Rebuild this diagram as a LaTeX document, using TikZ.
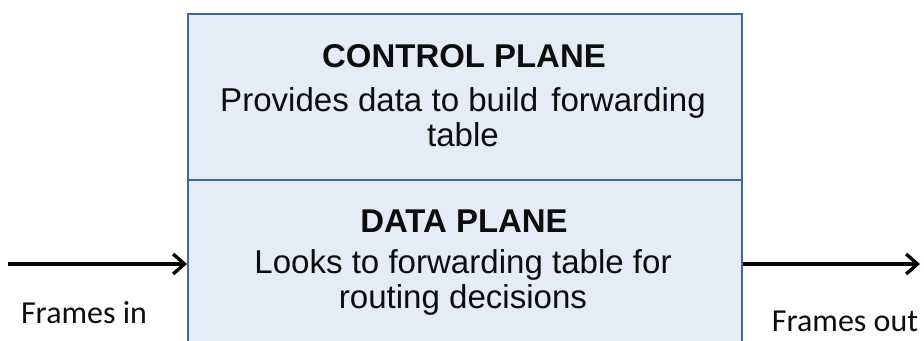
\documentclass[tikz,border=0pt]{standalone}
\usepackage{fontspec}
\setmainfont{Liberation Sans}
\newfontfamily\labelfont{Carlito}
\usetikzlibrary{arrows.meta}
\definecolor{planefill}{HTML}{E5ECF6}
\definecolor{planeline}{HTML}{41689A}
\definecolor{ink}{HTML}{0D0D0D}
\tikzset{
  plane/.style={draw=planeline, fill=planefill, line width=1.6pt, rectangle,
    anchor=north west, minimum width=415.5pt, inner sep=0pt},
  title/.style={font=\fontsize{24.7}{28}\selectfont\bfseries, text=ink},
  body/.style={font=\fontsize{24.8}{26.3}\selectfont, text=ink, align=center},
  side/.style={font=\labelfont\fontsize{24}{28}\selectfont, text=ink},
  flow/.style={draw=black, line width=2.5pt, -{Straight Barb[length=8.5pt,width=15pt]}}
}
\begin{document}
\begin{tikzpicture}[x=0.75pt,y=-0.75pt]
  \useasboundingbox (0,0) rectangle (924,340);
  \clip (0,0) rectangle (924,340);
  % the two stacked planes of the switch
  \node[plane, minimum height=124.5pt] (control) at (187,12.5) {};
  \node[plane, minimum height=180pt] (data) at (187,178.5) {};
  % plane captions
  \node[title] (ctitle) at (464,56) {CONTROL PLANE};
  \node[body] (ctext) at (463,117) {Provides data to build\hspace{0.12em} forwarding\\table};
  \node[title] (dtitle) at (464,221) {DATA PLANE};
  \node[body] (dtext) at (463,282) {Looks to forwarding table for\\routing decisions};
  % frames entering and leaving
  \coordinate (inL) at (8,264);
  \coordinate (outR) at (920,264);
  \draw[flow] (inL) -- (inL -| data.west);
  \draw[flow] (outR -| data.east) -- (outR);
  \node[side] (fin) at (84,313) {Frames in};
  \node[side] (fout) at (845,321) {Frames out};
\end{tikzpicture}
\end{document}
